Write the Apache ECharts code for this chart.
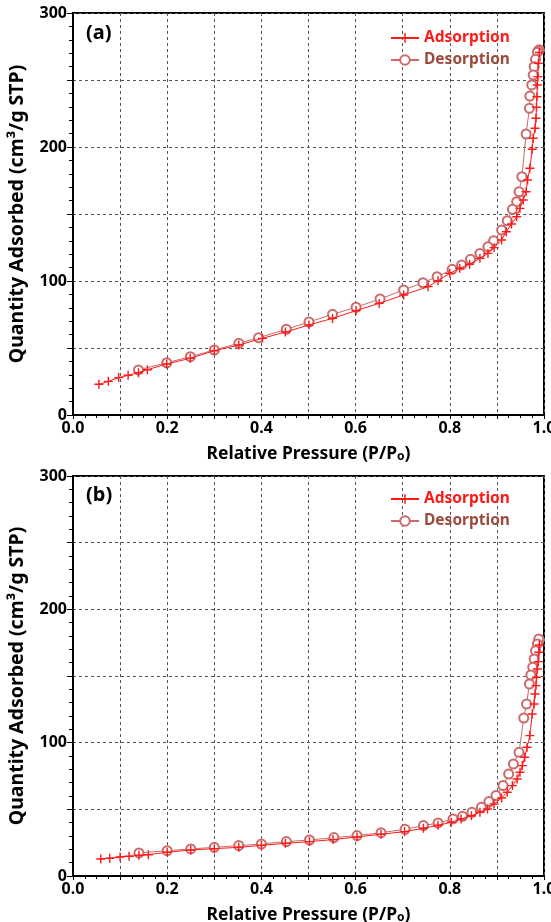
<!DOCTYPE html>
<html>
<head>
<meta charset="utf-8">
<script src="https://cdn.jsdelivr.net/npm/echarts@6/dist/echarts.min.js"></script>
<style>html,body{margin:0;padding:0;background:#fff;}#c{width:551px;height:922px;}</style>
</head>
<body>
<div id="c"></div>
<script>
// ---- Panel (a) ----
const aAdsP = [0.055,0.075,0.097,0.117,0.139,0.158,0.199,0.249,0.300,0.352,0.402,0.451,0.501,0.551,0.601,0.650,0.702,0.754,0.775,0.800,0.821,0.842,0.864,0.881,0.894,0.910,0.920,0.931,0.942,0.949,0.956,0.962,0.965,0.970,0.975,0.977,0.981,0.983,0.984,0.985,0.986,0.987,0.988,0.990];
const aAdsQ = [22.9,25.1,27.9,29.6,31.6,33.8,38.1,42.3,48.0,52.2,57.2,61.9,67.2,72.1,77.9,83.3,89.6,95.8,100.2,105.7,109.5,112.5,116.9,120.6,124.9,130.6,136.8,142.5,148.0,154.2,160.4,166.6,175.4,184.1,198.3,206.5,214.0,221.4,229.6,237.5,246.3,252.5,262.4,270.5];
const aDesP = [0.990,0.988,0.986,0.982,0.979,0.977,0.974,0.970,0.969,0.962,0.953,0.947,0.942,0.933,0.922,0.910,0.893,0.881,0.864,0.844,0.825,0.805,0.773,0.743,0.702,0.652,0.601,0.551,0.501,0.453,0.394,0.352,0.300,0.249,0.199,0.139];
const aDesQ = [272.5,272.0,270.7,265.4,259.9,253.7,246.3,238.0,228.9,209.7,177.8,166.6,159.2,153.5,145.0,138.0,130.1,125.6,120.6,116.2,112.0,108.7,103.2,98.7,93.3,86.6,80.4,75.1,69.4,64.0,57.7,53.5,48.5,43.5,39.0,33.6];

// ---- Panel (b) ----
const bAdsP = [0.059,0.078,0.100,0.119,0.140,0.160,0.200,0.250,0.300,0.352,0.400,0.451,0.502,0.552,0.603,0.654,0.704,0.744,0.775,0.803,0.824,0.846,0.864,0.880,0.894,0.910,0.922,0.933,0.943,0.949,0.954,0.959,0.964,0.970,0.975,0.979,0.981,0.983,0.984,0.986,0.988,0.989,0.990];
const bAdsQ = [12.8,13.3,14.3,14.8,15.5,16.0,17.8,19.5,20.5,21.5,23.0,24.5,25.8,27.3,29.3,31.3,33.3,35.8,38.0,40.3,42.8,45.2,47.8,50.3,54.0,58.5,62.8,67.8,72.8,77.8,82.8,89.0,96.5,105.3,121.5,129.0,136.5,142.8,149.0,155.3,160.8,167.8,173.3];
const bDesP = [0.990,0.989,0.986,0.982,0.979,0.976,0.972,0.969,0.963,0.957,0.947,0.935,0.925,0.913,0.898,0.883,0.867,0.847,0.827,0.807,0.775,0.744,0.705,0.654,0.603,0.554,0.502,0.453,0.400,0.352,0.300,0.250,0.200,0.140];
const bDesQ = [177.0,177.8,174.0,169.0,162.8,156.5,150.8,144.0,129.0,118.5,92.8,84.0,76.5,67.8,60.3,55.8,51.5,47.8,44.8,42.8,39.8,37.8,35.0,32.5,30.3,28.8,27.0,25.8,24.0,22.8,21.5,20.3,19.0,17.3];

const xTicks = [0.0,0.2,0.4,0.6,0.8,1.0];
const yTicks = [0,100,200,300];

const zip = (xs, ys) => xs.map((x, i) => [x, ys[i]]);

const FONT = 'Noto Sans';
const ADS_COLOR = '#ff1a1a';
const DES_COLOR = '#cc6a6a';
const DES_TEXT = '#9c4a3c';
const PLUS = 'path://M0,4.2H10V5.8H0Z M4.2,0H5.8V10H4.2Z';

function xAxisFor(gi) {
  return {
    gridIndex: gi, type: 'value', min: 0, max: 1, interval: 0.1,
    name: 'Relative Pressure (P/P{s|o})', nameLocation: 'middle', nameGap: 30,
    nameTextStyle: { fontFamily: FONT, fontWeight: 'bold', fontSize: 17.5, color: '#000',
      rich: { s: { fontFamily: FONT, fontWeight: 'bold', fontSize: 12, color: '#000', verticalAlign: 'bottom', padding: [6,0,0,0] } } },
    axisLine: { show: true, lineStyle: { color: '#000', width: 2 } },
    axisTick: { show: true, length: 4, lineStyle: { color: '#000', width: 1 } },
    minorTick: { show: true, splitNumber: 4, length: 3, lineStyle: { color: '#000', width: 1 } },
    axisLabel: { fontFamily: FONT, fontWeight: 'bold', fontSize: 16, color: '#000', margin: 5,
      formatter: v => { const r = Math.round(v * 10) / 10; return xTicks.some(t => Math.abs(t - r) < 1e-6) ? r.toFixed(1) : ''; } },
    splitLine: { show: true, lineStyle: { color: '#555', type: [3, 3], width: 1 } }
  };
}
function yAxisFor(gi) {
  return {
    gridIndex: gi, type: 'value', min: 0, max: 300, interval: 50,
    name: 'Quantity Adsorbed (cm³/g STP)', nameLocation: 'middle', nameGap: 46,
    nameTextStyle: { fontFamily: FONT, fontWeight: 'bold', fontSize: 19.5, color: '#000' },
    axisLine: { show: true, lineStyle: { color: '#000', width: 2 } },
    axisTick: { show: true, length: 6, lineStyle: { color: '#000', width: 1 } },
    minorTick: { show: true, splitNumber: 5, length: 4, lineStyle: { color: '#000', width: 1 } },
    axisLabel: { fontFamily: FONT, fontWeight: 'bold', fontSize: 16, color: '#000', margin: 6,
      formatter: v => yTicks.indexOf(v) >= 0 ? String(v) : '' },
    splitLine: { show: true, lineStyle: { color: '#555', type: [3, 3], width: 1 } }
  };
}
function seriesFor(gi, adsP, adsQ, desP, desQ) {
  return [
    { name: 'Adsorption', type: 'line', xAxisIndex: gi, yAxisIndex: gi, data: zip(adsP, adsQ),
      symbol: PLUS, symbolSize: 9, showAllSymbol: true, z: 3,
      lineStyle: { color: ADS_COLOR, width: 1 }, itemStyle: { color: ADS_COLOR } },
    { name: 'Desorption', type: 'line', xAxisIndex: gi, yAxisIndex: gi, data: zip(desP, desQ),
      symbol: 'emptyCircle', symbolSize: 9, showAllSymbol: true, z: 2,
      lineStyle: { color: DES_COLOR, width: 1 },
      itemStyle: { color: DES_COLOR, borderWidth: 1 } }
  ];
}
function legendFor(top) {
  return {
    orient: 'vertical', left: 385, top: top, itemWidth: 28, itemHeight: 12, itemGap: 6,
    textStyle: { fontFamily: FONT, fontWeight: 'bold', fontSize: 15.5 },
    data: [
      { name: 'Adsorption', textStyle: { color: ADS_COLOR } },
      { name: 'Desorption', textStyle: { color: DES_TEXT } }
    ]
  };
}

const chart = echarts.init(document.getElementById('c'), null, { renderer: 'canvas' });
chart.setOption({
  animation: false,
  backgroundColor: '#fff',
  title: [
    { text: '(a)', left: 81, top: 18, textStyle: { fontFamily: FONT, fontWeight: 'bold', fontSize: 20, color: '#000' } },
    { text: '(b)', left: 81, top: 480, textStyle: { fontFamily: FONT, fontWeight: 'bold', fontSize: 20, color: '#000' } }
  ],
  legend: [legendFor(25), legendFor(486)],
  grid: [
    { left: 73, top: 13, width: 471, height: 402, show: true, borderColor: '#000', borderWidth: 2, outerBoundsMode: 'none', containLabel: false },
    { left: 73, top: 476, width: 471, height: 400, show: true, borderColor: '#000', borderWidth: 2, outerBoundsMode: 'none', containLabel: false }
  ],
  xAxis: [xAxisFor(0), xAxisFor(1)],
  yAxis: [yAxisFor(0), yAxisFor(1)],
  series: [
    ...seriesFor(0, aAdsP, aAdsQ, aDesP, aDesQ),
    ...seriesFor(1, bAdsP, bAdsQ, bDesP, bDesQ)
  ]
});
</script>
</body>
</html>
